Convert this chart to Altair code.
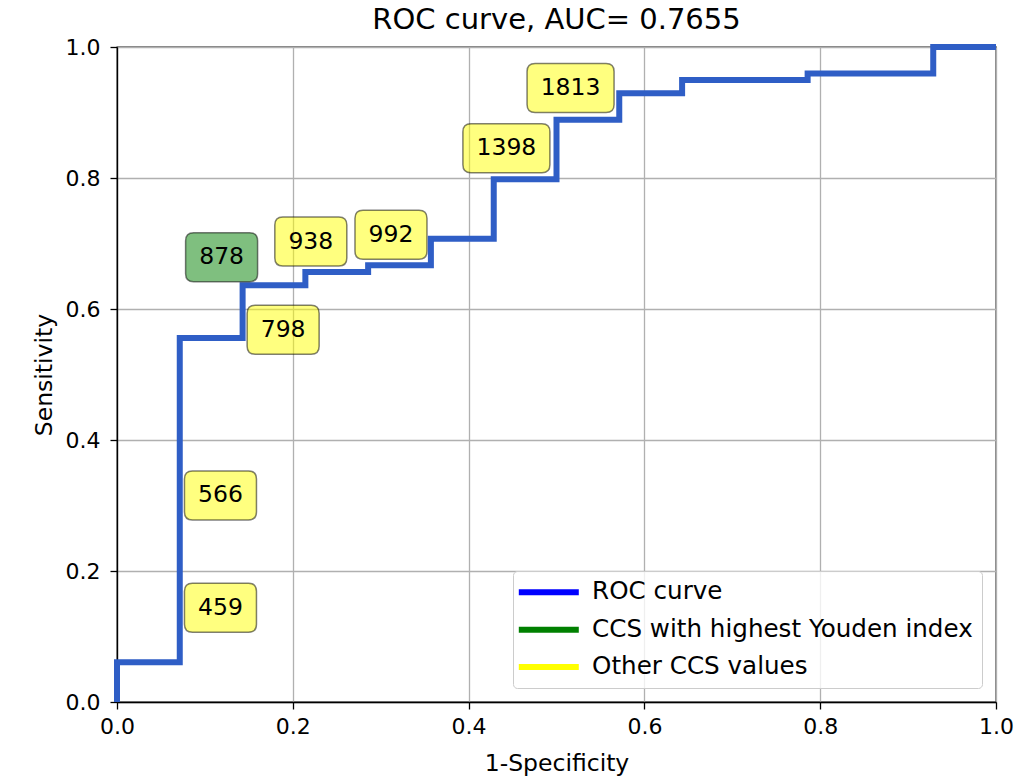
import altair as alt
import pandas as pd

# ROC curve vertices (step-after)
fpr = [0.0, 0.0, 0.0714, 0.1429, 0.2143, 0.2857, 0.3571, 0.4286, 0.5, 0.5714, 0.6429, 0.7857, 0.9286, 1.0]
tpr = [0.0, 0.0606, 0.5556, 0.6364, 0.6566, 0.6667, 0.7071, 0.7980, 0.8889, 0.9293, 0.9495, 0.9596, 1.0, 1.0]

# CCS annotation labels
ccs_labels = ["878", "938", "992", "798", "1398", "1813", "566", "459"]
label_x = [0.119, 0.2205, 0.3117, 0.189, 0.443, 0.516, 0.1177, 0.1177]
label_y = [0.679, 0.703, 0.7135, 0.5684, 0.8453, 0.9374, 0.3153, 0.1438]
label_kind = ["best", "other", "other", "other", "other", "other", "other", "other"]

legend_names = ["ROC curve", "CCS with highest Youden index", "Other CCS values"]
legend_colors = ["#0000ff", "#008000", "#ffff00"]

FONT = "DejaVu Sans"

roc_df = pd.DataFrame({"fpr": fpr, "tpr": tpr, "order": list(range(len(fpr)))})
lab_df = pd.DataFrame({"x": label_x, "y": label_y, "label": ccs_labels, "kind": label_kind})
leg_df = pd.DataFrame({"name": legend_names})


def rounded_box(w, h, r):
    hw = 1.0
    hh = h / w
    rr = 2.0 * r / w
    f = lambda v: f"{v:.4f}"
    return (
        f"M{f(-hw + rr)},{f(-hh)} L{f(hw - rr)},{f(-hh)} Q{f(hw)},{f(-hh)} {f(hw)},{f(-hh + rr)} "
        f"L{f(hw)},{f(hh - rr)} Q{f(hw)},{f(hh)} {f(hw - rr)},{f(hh)} "
        f"L{f(-hw + rr)},{f(hh)} Q{f(-hw)},{f(hh)} {f(-hw)},{f(hh - rr)} "
        f"L{f(-hw)},{f(-hh + rr)} Q{f(-hw)},{f(-hh)} {f(-hw + rr)},{f(-hh)} Z"
    )


xscale = alt.Scale(domain=[0, 1], nice=False, zero=False)
yscale = alt.Scale(domain=[0, 1], nice=False, zero=False)
ticks = [0.0, 0.2, 0.4, 0.6, 0.8, 1.0]

xaxis = alt.Axis(values=ticks, format=".1f", title="1-Specificity", labelFlush=False,
                 tickSize=7, labelPadding=7, titlePadding=14)
yaxis = alt.Axis(values=ticks, format=".1f", title="Sensitivity", labelFlush=False,
                 tickSize=7, labelPadding=10, titlePadding=9)

line = alt.Chart(roc_df).mark_line(
    interpolate="step-after", color="#2f5ec6", strokeWidth=6
).encode(
    x=alt.X("fpr:Q", scale=xscale, axis=xaxis),
    y=alt.Y("tpr:Q", scale=yscale, axis=yaxis),
    order="order:Q",
)

fill_scale = alt.Scale(domain=["best", "other"], range=["#008000", "#ffff00"])

base_lab = alt.Chart(lab_df).encode(
    x=alt.X("x:Q", scale=xscale),
    y=alt.Y("y:Q", scale=yscale),
)

boxes3 = base_lab.transform_filter("length(datum.label) <= 3").mark_point(
    shape=rounded_box(72, 49, 8), size=72 * 72, filled=True,
    fillOpacity=0.5, stroke="black", strokeOpacity=0.5, strokeWidth=1.5, opacity=1
).encode(fill=alt.Fill("kind:N", scale=fill_scale, legend=None))

boxes4 = base_lab.transform_filter("length(datum.label) > 3").mark_point(
    shape=rounded_box(87, 49, 8), size=87 * 87, filled=True,
    fillOpacity=0.5, stroke="black", strokeOpacity=0.5, strokeWidth=1.5, opacity=1
).encode(fill=alt.Fill("kind:N", scale=fill_scale, legend=None))

texts = base_lab.mark_text(
    font=FONT, fontSize=23.5, color="black", align="center", baseline="middle"
).encode(text="label:N")

legend_layer = alt.Chart(leg_df).mark_point(size=0, filled=True).encode(
    x=alt.value(0),
    y=alt.value(0),
    color=alt.Color(
        "name:N",
        scale=alt.Scale(domain=legend_names, range=legend_colors),
        legend=alt.Legend(
            title=None,
            orient="none",
            legendX=396,
            legendY=524,
            padding=9,
            fillColor="rgba(255,255,255,0.8)",
            strokeColor="#cccccc",
            cornerRadius=4,
            symbolType="M-15,-1.5 L15,-1.5 L15,1.5 L-15,1.5 Z",
            symbolSize=16,
            symbolStrokeWidth=0,
            symbolOpacity=1,
            symbolOffset=14.5,
            labelOffset=31,
            labelFont=FONT,
            labelFontSize=24.6,
            labelColor="black",
            labelLimit=600,
            rowPadding=12.4,
        ),
    ),
)

chart = alt.layer(line, boxes3, boxes4, texts, legend_layer).properties(
    width=879,
    height=655,
    autosize="none",
    padding={"left": 117, "top": 47, "right": 21, "bottom": 79},
    title=alt.TitleParams(
        "ROC curve, AUC= 0.7655", font=FONT, fontSize=29, fontWeight="normal",
        color="black", offset=6, baseline="alphabetic", dy=29
    ),
).configure_view(
    stroke="black", strokeWidth=1.3
).configure_axis(
    labelFont=FONT, titleFont=FONT, labelFontSize=22, titleFontSize=23.5,
    labelColor="black", titleColor="black", titleFontWeight="normal",
    tickColor="black", tickWidth=1.3, domainColor="black", domainWidth=1.3,
    gridColor="#b0b0b0", gridWidth=1.3, gridOpacity=1
)

chart.save("out.html", embed_options={"renderer": "svg", "actions": False})
